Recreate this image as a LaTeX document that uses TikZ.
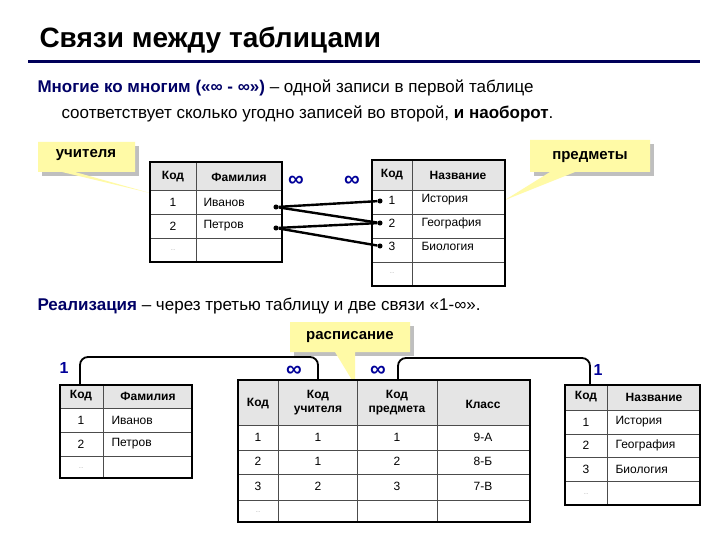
\documentclass[tikz,border=0pt]{standalone}
\usepackage{fontspec}
\setmainfont{Liberation Sans}
\begin{document}
\begin{tikzpicture}[x=1pt,y=-1pt,
  cell/.style={font=\fontsize{12}{14}\selectfont},
  hcell/.style={font=\fontsize{12}{14}\selectfont\bfseries},
  tline/.style={line width=0.6pt,black!70},
  tframe/.style={line width=1.4pt},
  link/.style={line width=2.4pt},
  dotc/.style={circle,fill,inner sep=1.8pt},
  inf/.style={text=blue!60!black,font=\fontsize{22}{22}\selectfont\bfseries},
  one/.style={text=blue!60!black,font=\fontsize{16}{16}\selectfont\bfseries},
  calloutfill/.style={fill=yellow!35},
  shadowfill/.style={fill=gray!50}]
\useasboundingbox (0,0) rectangle (720,540);
\fill[white] (0,0) rectangle (720,540);
% title
\node[anchor=west,font=\fontsize{28}{30}\selectfont\bfseries] (title) at (36,40) {Связи между таблицами};
\draw[blue!35!black,line width=3pt] (28,62) -- (700,62);
\node[anchor=west,font=\fontsize{17}{19}\selectfont] (l1) at (34,88) {\textcolor{blue!40!black}{\bfseries Многие ко многим («∞ - ∞»)} – одной записи в первой таблице};
\node[anchor=west,font=\fontsize{17}{19}\selectfont] (l2) at (58,114) {соответствует сколько угодно записей во второй, \textbf{и наоборот}.};
% callouts top
\fill[shadowfill] (42,146) rectangle (139,176);
\fill[calloutfill] (38,142) -- (135,142) -- (135,172) -- (75,172) -- (150,193) -- (62,172) -- (38,172) -- cycle;
\node[font=\fontsize{15}{15}\selectfont\bfseries] (ucl) at (86,155) {учителя};
\fill[shadowfill] (534,144) rectangle (654,176);
\fill[calloutfill] (530,140) -- (650,140) -- (650,172) -- (575,172) -- (505,200) -- (550,172) -- (530,172) -- cycle;
\node[font=\fontsize{15}{15}\selectfont\bfseries] (pcl) at (590,157) {предметы};
% table 1 top
\fill[gray!20] (150,162) rectangle (282,190);
\foreach \y in {190,214,238} \draw[tline] (150,\y) -- (282,\y);
\draw[tline] (196,162) -- (196,262);
\draw[tframe] (150,162) rectangle (282,262);
\node[hcell] at (173,177) {Код};
\node[hcell] at (239,177) {Фамилия};
\node[cell] at (173,202) {1}; \node[cell,anchor=west] at (200,202) {Иванов};
\node[cell] at (173,226) {2}; \node[cell,anchor=west] at (200,226) {Петров};
\node[cell,font=\tiny,gray] at (173,250) {…};
% table 2 top
\fill[gray!20] (372,160) rectangle (505,190);
\foreach \y in {190,214,238,262} \draw[tline] (372,\y) -- (505,\y);
\draw[tline] (412,160) -- (412,286);
\draw[tframe] (372,160) rectangle (505,286);
\node[hcell] at (392,175) {Код};
\node[hcell] at (458,175) {Название};
\node[cell] at (392,200) {1}; \node[cell,anchor=west] at (418,200) {История};
\node[cell] at (392,223) {2}; \node[cell,anchor=west] at (418,223) {География};
\node[cell] at (392,246) {3}; \node[cell,anchor=west] at (418,246) {Биология};
\node[cell,font=\tiny,gray] at (392,273) {…};
% links
\node[dotc] (a1) at (276,207) {}; \node[dotc] (a2) at (276,228) {};
\node[dotc] (b1) at (380,201) {}; \node[dotc] (b2) at (380,223) {}; \node[dotc] (b3) at (380,246) {};
\draw[link] (a1) -- (b1); \draw[link] (a1) -- (b2); \draw[link] (a2) -- (b2); \draw[link] (a2) -- (b3);
\node[inf] at (296,181) {∞}; \node[inf] at (352,181) {∞};
% realization
\node[anchor=west,font=\fontsize{17}{19}\selectfont] (r) at (34,306) {\textcolor{blue!40!black}{\bfseries Реализация} – через третью таблицу и две связи «1-∞».};
% callout bottom
\fill[shadowfill] (294,326) rectangle (414,356);
\fill[calloutfill] (290,322) -- (410,322) -- (410,352) -- (355,352) -- (355,385) -- (335,352) -- (290,352) -- cycle;
\node[font=\fontsize{15}{15}\selectfont\bfseries] (rcl) at (350,337) {расписание};
% bottom table 1
\fill[gray!20] (60,385) rectangle (192,408);
\foreach \y in {408,432,456} \draw[tline] (60,\y) -- (192,\y);
\draw[tline] (103,385) -- (103,478);
\draw[tframe] (60,385) rectangle (192,478);
\node[hcell] at (81,396) {Код}; \node[hcell] at (148,396) {Фамилия};
\node[cell] at (81,420) {1}; \node[cell,anchor=west] at (108,420) {Иванов};
\node[cell] at (81,444) {2}; \node[cell,anchor=west] at (108,444) {Петров};
\node[cell,font=\tiny,gray] at (81,468) {…};
% schedule
\fill[gray!20] (238,380) rectangle (530,425);
\foreach \y in {425,450,474,500} \draw[tline] (238,\y) -- (530,\y);
\foreach \x in {278,357,437} \draw[tline] (\x,380) -- (\x,522);
\draw[tframe] (238,380) rectangle (530,522);
\node[hcell] at (258,404) {Код};
\node[hcell,align=center] at (318,403) {Код\\учителя};
\node[hcell,align=center] at (397,403) {Код\\предмета};
\node[hcell] at (483,404) {Класс};
\foreach \a/\b/\c/\d [count=\i] in {1/1/1/9-А,2/1/2/8-Б,3/2/3/7-В}{
  \pgfmathsetmacro\yy{437+(\i-1)*24.5}
  \node[cell] at (258,\yy) {\a}; \node[cell] at (318,\yy) {\b};
  \node[cell] at (397,\yy) {\c}; \node[cell] at (483,\yy) {\d};}
\node[cell,font=\tiny,gray] at (258,512) {…};
% bottom table 3
\fill[gray!20] (565,385) rectangle (700,410);
\foreach \y in {410,434,457,481} \draw[tline] (565,\y) -- (700,\y);
\draw[tline] (607,385) -- (607,505);
\draw[tframe] (565,385) rectangle (700,505);
\node[hcell] at (586,397) {Код}; \node[hcell] at (654,397) {Название};
\node[cell] at (586,422) {1}; \node[cell,anchor=west] at (612,422) {История};
\node[cell] at (586,445) {2}; \node[cell,anchor=west] at (612,445) {География};
\node[cell] at (586,469) {3}; \node[cell,anchor=west] at (612,469) {Биология};
\node[cell,font=\tiny,gray] at (586,494) {…};
% bottom links
\coordinate (p1) at (80,385); \coordinate (p2) at (318,380);
\coordinate (q1) at (398,380); \coordinate (q2) at (590,385);
\draw[line width=1.8pt,rounded corners=8pt] (p1) -- (80,357) -- (318,357) -- (p2);
\draw[line width=1.8pt,rounded corners=8pt] (q1) -- (398,358) -- (590,358) -- (q2);
\node[one] at (64,368) {1}; \node[inf] at (294,371) {∞};
\node[inf] at (378,371) {∞}; \node[one] at (598,370) {1};
\end{tikzpicture}
\end{document}
